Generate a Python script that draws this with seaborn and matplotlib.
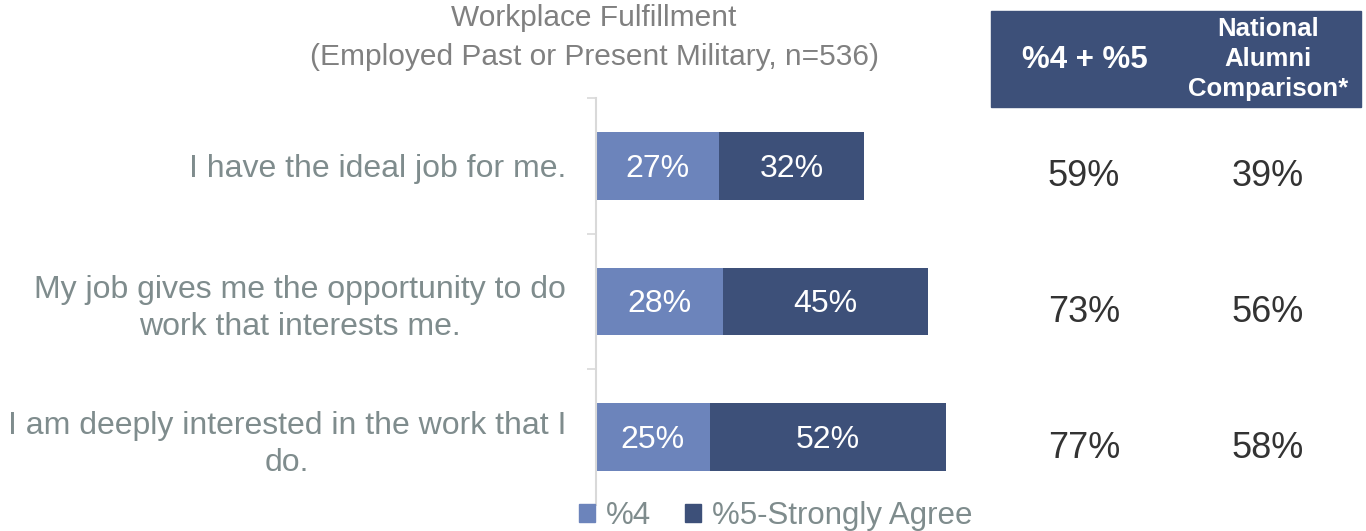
import matplotlib.pyplot as plt
import pandas as pd
import seaborn as sns
from matplotlib.patches import Patch, Rectangle
from matplotlib.transforms import blended_transform_factory

# 数据
statements = ["I have the ideal job for me.",
              "My job gives me the opportunity to do\nwork that interests me.",
              "I am deeply interested in the work that I\ndo."]
pct4 = [27, 28, 25]
pct5 = [32, 45, 52]
top2 = [59, 73, 77]
national = [39, 56, 58]
legend_labels = ["%4", "%5-Strongly Agree"]
header_top2 = "%4 + %5"
header_national = "National\nAlumni\nComparison*"
title = "Workplace Fulfillment\n(Employed Past or Present Military, n=536)"

light = "#6c84bb"
dark = "#3d5079"
gray_lbl = "#7f8c8d"

sns.set_style("white")
plt.rcParams['font.family'] = ['Liberation Sans', 'DejaVu Sans']

df = pd.DataFrame({"statement": statements, "pct4": pct4, "pct5": pct5})
df["total"] = df["pct4"] + df["pct5"]

W, H = 1366, 531
fig = plt.figure(figsize=(13.66, 5.31), dpi=100)
ax = fig.add_axes([596 / W, 1 - 505 / H, 455 / W, 407 / H])

# 先画总长 (深色)，再覆盖 %4 (浅色)
sns.barplot(data=df, x="total", y="statement", orient="h", color=dark,
            width=0.5, linewidth=0, saturation=1, ax=ax)
sns.barplot(data=df, x="pct4", y="statement", orient="h", color=light,
            width=0.5, linewidth=0, saturation=1, ax=ax)

ax.set_xlim(0, 100)
ax.set_ylim(2.5, -0.5)
ax.set_xlabel("")
ax.set_ylabel("")
ax.set_xticks([])
for s in ["top", "right", "bottom"]:
    ax.spines[s].set_visible(False)
ax.spines["left"].set_color("#d9d9d9")
ax.spines["left"].set_linewidth(1.5)

ax.set_yticks([-0.5, 0.5, 1.5, 2.5], minor=True)
ax.tick_params(axis="y", which="minor", length=6.5, width=1.2, color="#d9d9d9", left=True)
ax.tick_params(axis="y", which="major", length=0, pad=21.5, labelsize=23, labelcolor=gray_lbl)
for lbl in ax.get_yticklabels():
    lbl.set_multialignment("center")
    lbl.set_linespacing(1.3)

# 条形内的百分比
for i, (a, b) in enumerate(zip(pct4, pct5)):
    ax.text(a / 2, i + 0.02, f"{a}%", ha="center", va="center", color="white", fontsize=23)
    ax.text(a + b / 2, i + 0.02, f"{b}%", ha="center", va="center", color="white", fontsize=23)

# 右侧表格
trans = blended_transform_factory(fig.transFigure, ax.transData)
for i, (t, n) in enumerate(zip(top2, national)):
    ax.text(1084 / W, i + 0.08, f"{t}%", transform=trans, ha="center", va="center",
            color="#333333", fontsize=26, clip_on=False)
    ax.text(1268 / W, i + 0.08, f"{n}%", transform=trans, ha="center", va="center",
            color="#333333", fontsize=26, clip_on=False)

fig.patches.append(Rectangle((991 / W, 1 - 107 / H), 370 / W, 96 / H,
                             transform=fig.transFigure, color=dark, zorder=0))
fig.text(1085 / W, 1 - 60 / H, header_top2, ha="center", va="center",
         color="white", fontsize=22.5, fontweight="bold")
fig.text(1268 / W, 1 - 59 / H, header_national, ha="center", va="center",
         color="white", fontsize=18.5, fontweight="bold", linespacing=1.3)

# 标题
fig.text(594 / W, 1 - 37 / H, title, ha="center", va="center",
         color="#808080", fontsize=21.5, linespacing=1.5)

# 图例
fig.legend(handles=[Patch(color=light), Patch(color=dark)], labels=legend_labels,
           loc="center left", bbox_to_anchor=(579 / W, 1 - 516 / H), ncol=2,
           frameon=False, fontsize=22.5, labelcolor=gray_lbl, borderpad=0,
           borderaxespad=0, handlelength=0.5, handleheight=0.5,
           handletextpad=0.35, columnspacing=1.1)

fig.savefig("out.png", dpi=100)
